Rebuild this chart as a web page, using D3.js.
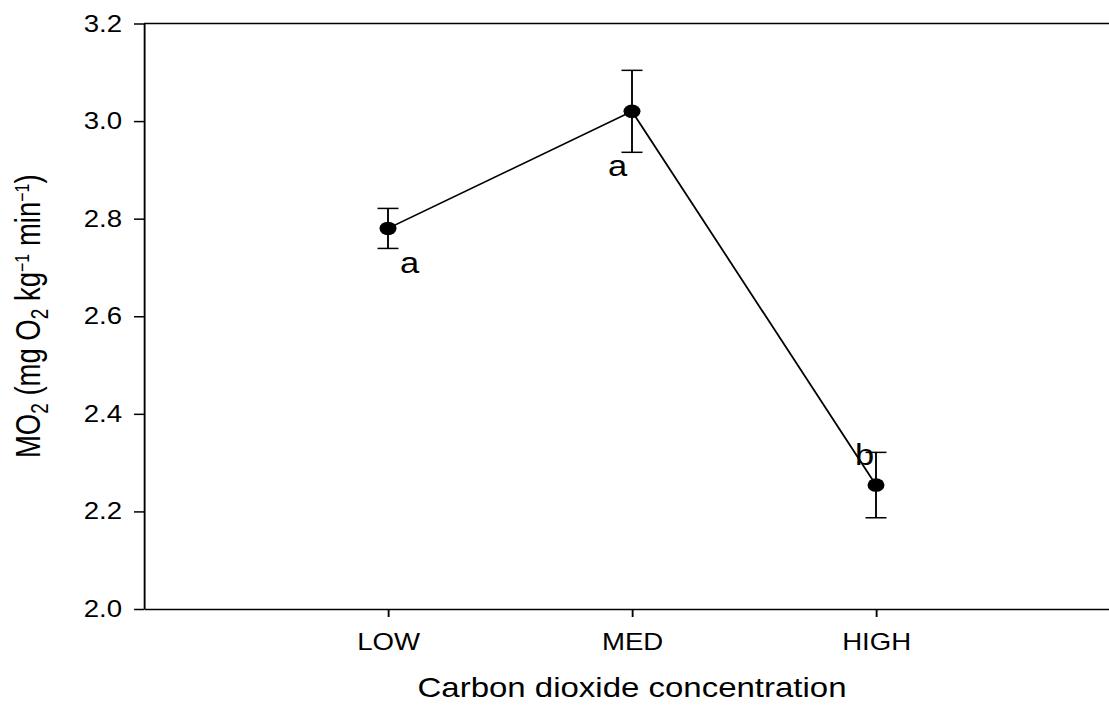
<!DOCTYPE html>
<html>
<head>
<meta charset="utf-8">
<script src="https://cdn.jsdelivr.net/npm/d3@7"></script>
<style>
  html, body { margin: 0; padding: 0; background: #fff; overflow: hidden; }
  svg { display: block; }
  text { font-family: "Liberation Sans", Arial, Helvetica, sans-serif; fill: #000; }
</style>
</head>
<body>
<svg id="chart"></svg>
<script>
// Metabolic rate by CO2 treatment (mean ± SE) with post-hoc group letters
const categories = ["LOW", "MED", "HIGH"];
const meanValues = [2.78, 3.02, 2.254];
const errorValues = [0.041, 0.084, 0.067];
const groupLetters = ["a", "a", "b"];
const yTickValues = [2.0, 2.2, 2.4, 2.6, 2.8, 3.0, 3.2];

(function () {
  const pageW = 1109, pageH = 705;
  const stretch = 1.25;                 // horizontal aspect of the drawing
  const W = pageW / stretch;            // internal drawing width

  // Narrow the glyphs of a text selection by factor f
  function condense(sel, f) {
    sel.each(function () {
      const L = this.getComputedTextLength();
      this.setAttribute("textLength", L * f);
      this.setAttribute("lengthAdjust", "spacingAndGlyphs");
    });
  }

  const svg = d3.select("#chart")
    .attr("width", pageW)
    .attr("height", pageH)
    .attr("viewBox", `0 0 ${W} ${pageH}`)
    .attr("preserveAspectRatio", "none");

  const plotLeft = 115.2, plotTop = 23.5, plotBottom = 609;
  const step = 195.2;

  const x = d3.scaleLinear().domain([0, 4]).range([plotLeft, plotLeft + 4 * step]);
  const y = d3.scaleLinear().domain([2.0, 3.2]).range([plotBottom, plotTop]);

  // Frame top edge
  svg.append("line")
    .attr("x1", x(0)).attr("x2", x(4))
    .attr("y1", y(3.2)).attr("y2", y(3.2))
    .attr("stroke", "#000").attr("stroke-width", 1.5);

  // Y axis
  const yAxis = svg.append("g")
    .attr("transform", `translate(${plotLeft},0)`)
    .call(d3.axisLeft(y)
      .tickValues(yTickValues)
      .tickFormat(d3.format(".1f"))
      .tickSize(8)
      .tickSizeOuter(0)
      .tickPadding(9.5));
  yAxis.select(".domain").attr("stroke", "#000").attr("stroke-width", 1.5);
  yAxis.selectAll(".tick line").attr("stroke", "#000").attr("stroke-width", 1.5);
  const yTickText = yAxis.selectAll(".tick text")
    .style("font-family", '"Liberation Sans", Arial, sans-serif')
    .style("font-size", "23.5px").attr("fill", "#000");
  condense(yTickText, 0.94);

  // X axis
  const xAxis = svg.append("g")
    .attr("transform", `translate(0,${plotBottom})`)
    .call(d3.axisBottom(x)
      .tickValues([1, 2, 3])
      .tickFormat(d => categories[d - 1])
      .tickSize(8)
      .tickSizeOuter(0)
      .tickPadding(15.5));
  xAxis.select(".domain").attr("stroke", "#000").attr("stroke-width", 1.5);
  xAxis.selectAll(".tick line").attr("stroke", "#000").attr("stroke-width", 1.5);
  const xTickText = xAxis.selectAll(".tick text")
    .style("font-family", '"Liberation Sans", Arial, sans-serif')
    .style("font-size", "24px").attr("fill", "#000");
  condense(xTickText, 0.92);

  const pts = categories.map((c, i) => ({
    c, xv: i + 1, m: meanValues[i], e: errorValues[i], letter: groupLetters[i]
  }));

  // Error bars
  const capHalf = 8.4;
  const eb = svg.append("g").attr("stroke", "#000").attr("stroke-width", 1.5);
  pts.forEach(p => {
    eb.append("line")
      .attr("x1", x(p.xv)).attr("x2", x(p.xv))
      .attr("y1", y(p.m + p.e)).attr("y2", y(p.m - p.e));
    eb.append("line")
      .attr("x1", x(p.xv) - capHalf).attr("x2", x(p.xv) + capHalf)
      .attr("y1", y(p.m + p.e)).attr("y2", y(p.m + p.e));
    eb.append("line")
      .attr("x1", x(p.xv) - capHalf).attr("x2", x(p.xv) + capHalf)
      .attr("y1", y(p.m - p.e)).attr("y2", y(p.m - p.e));
  });

  // Connecting line
  svg.append("path")
    .datum(pts)
    .attr("fill", "none")
    .attr("stroke", "#000")
    .attr("stroke-width", 1.5)
    .attr("d", d3.line().x(p => x(p.xv)).y(p => y(p.m)));

  // Markers
  svg.append("g").selectAll("circle")
    .data(pts)
    .join("circle")
    .attr("cx", p => x(p.xv))
    .attr("cy", p => y(p.m))
    .attr("r", 6.8)
    .attr("fill", "#000");

  // Significance letters (offsets from each point)
  const letterOffsets = [[9.6, 45], [-19.2, 65], [-16.8, -20]];
  const letters = svg.append("g").selectAll("text.letter")
    .data(pts)
    .join("text")
    .attr("class", "letter")
    .attr("x", (p, i) => x(p.xv) + letterOffsets[i][0])
    .attr("y", (p, i) => y(p.m) + letterOffsets[i][1])
    .style("font-size", "30px")
    .text(p => p.letter);
  condense(letters, 0.92);

  // X axis title
  const xTitle = svg.append("text")
    .attr("x", x(2))
    .attr("y", 697)
    .attr("text-anchor", "middle")
    .style("font-size", "27.5px")
    .text("Carbon dioxide concentration");
  condense(xTitle, 0.96);

  // Y axis title with sub/superscripts
  const yl = svg.append("text")
    .attr("transform", `translate(32,${(plotTop + plotBottom) / 2}) rotate(-90)`)
    .attr("text-anchor", "middle")
    .style("font-size", "27.5px");
  yl.append("tspan").text("MO");
  yl.append("tspan").attr("baseline-shift", "-30%").style("font-size", "19px").text("2");
  yl.append("tspan").text(" (mg O");
  yl.append("tspan").attr("baseline-shift", "-30%").style("font-size", "19px").text("2");
  yl.append("tspan").text(" kg");
  yl.append("tspan").attr("baseline-shift", "55%").style("font-size", "16px").text("\u22121");
  yl.append("tspan").text(" min");
  yl.append("tspan").attr("baseline-shift", "55%").style("font-size", "16px").text("\u22121");
  yl.append("tspan").text(")");
})();
</script>
</body>
</html>
